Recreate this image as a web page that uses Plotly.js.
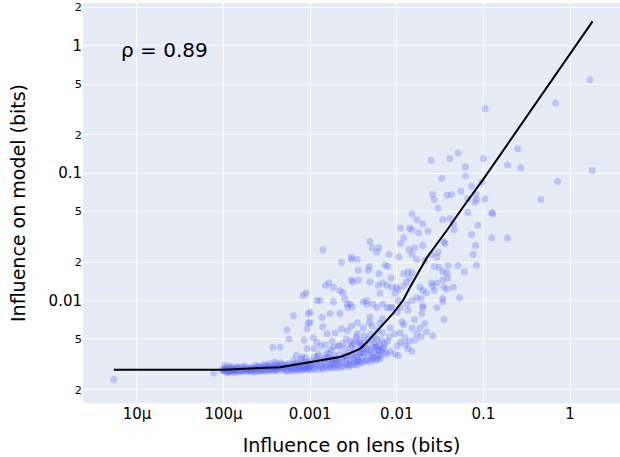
<!DOCTYPE html>
<html>
<head>
<meta charset="utf-8">
<script src="https://cdn.plot.ly/plotly-3.0.1.min.js"></script>
<style>html,body{margin:0;padding:0;background:#fff;}#chart{width:620px;height:457px;}</style>
</head>
<body>
<div id="chart"></div>
<script>
// Sparse upper points
const lensUpper = [1.7,1.8,0.68,0.105,0.72,0.46,0.25,0.19,0.27,0.19,0.125,0.083,0.025,0.041,0.051,0.1,0.062,0.033,0.062,0.073,0.096,0.055,0.026,0.027,0.038,0.043,0.082,0.066,0.083,0.08,0.104,0.03,0.066,0.128,0.015,0.017,0.034,0.041,0.045,0.02,0.086,0.011,0.014,0.015,0.018,0.023,0.046,0.012,0.073,0.125,0.011,0.035,0.081,0.016,0.02];
const modelUpper = [0.54,0.105,0.355,0.32,0.086,0.062,0.155,0.116,0.11,0.031,0.049,0.019,0.126,0.13,0.144,0.13,0.112,0.091,0.095,0.079,0.085,0.072,0.068,0.062,0.067,0.068,0.068,0.063,0.062,0.059,0.063,0.053,0.049,0.048,0.048,0.043,0.043,0.044,0.04,0.04,0.039,0.037,0.037,0.036,0.034,0.035,0.036,0.031,0.033,0.031,0.028,0.029,0.027,0.026,0.027];

// Middle points (about 0.008 - 0.03 bits on model)
const lensMid = [1.4e-3,4.9e-3,5.2e-3,6.2e-3,5.9e-3,2.3e-3,3e-3,3.0e-3,3.5e-3,8.1e-3,0.0105,0.0138,0.015,0.017,0.021,0.025,0.029,0.036,0.03,0.076,0.027,0.031,0.039,0.051,0.06,0.034,0.038,0.039,0.034,0.045,0.053,0.038,0.034,0.0135,0.015,0.012,0.014,0.013,0.012,0.0185,0.02,0.017,0.019,0.025,0.026,0.022,0.029,0.035,0.027,8.3e-4,9e-4,1.5e-3,1.65e-3,1.85e-3,2.2e-3,2.4e-3,3e-3,3.1e-3,3.6e-3,3.6e-3,4.7e-3,4.8e-3,6.2e-3,7.3e-3,7.9e-3,8.6e-3,7.7e-3,8.8e-3,0.01,4.9e-3,6.1e-3,6.9e-3,6.4e-3,9.5e-3,0.0104,0.0104,1.3e-3,1.85e-3,2.5e-3,2.7e-3,3.05e-3,4.1e-3,4.5e-3,5.3e-3,5.9e-3,6.9e-3,8.4e-3,0.011,0.013,0.015,0.02,0.029];
const modelMid = [0.025,0.029,0.026,0.026,0.024,0.02,0.021,0.022,0.021,0.023,0.022,0.025,0.023,0.021,0.0206,0.023,0.022,0.028,0.024,0.023,0.0185,0.0182,0.0188,0.0188,0.0168,0.0168,0.0165,0.015,0.0145,0.0127,0.0105,0.0123,0.0104,0.0168,0.0165,0.0162,0.015,0.014,0.013,0.0127,0.012,0.0105,0.0104,0.0137,0.013,0.0115,0.0137,0.0127,0.012,0.011,0.0115,0.0131,0.0137,0.0127,0.012,0.0115,0.0145,0.014,0.0145,0.0173,0.0173,0.0185,0.0162,0.019,0.0185,0.015,0.0131,0.0127,0.0127,0.014,0.0131,0.0137,0.0114,0.0114,0.0122,0.01,0.01,0.0098,0.0103,0.0094,0.0089,0.0098,0.01,0.0094,0.0088,0.0094,0.0088,0.0088,0.0094,0.01,0.0088,0.0088];

// Lower-middle points (about 0.004 - 0.01 bits on model)
const lensLow = [1e-3,1.37e-3,1.7e-3,2.2e-3,2.7e-3,2.9e-3,4.5e-3,3.5e-3,4.9e-3,6.4e-3,7.7e-3,8.8e-3,0.0101,0.0135,0.02,0.0195,0.034,0.035,6.4e-4,5.4e-4,9.2e-4,1.08e-3,1.57e-3,1.95e-3,2.7e-3,3.5e-3,4.1e-3,5.2e-3,6.9e-3,8.4e-3,9.5e-3,0.0109,0.0124,0.015,0.017,0.0185,0.0162,0.0135,0.0101,8.4e-3,7.7e-3,9.5e-3,6.4e-3,5.3e-3,0.026,0.0104,0.015,5.7e-4,3.7e-4,4.5e-4,9.5e-4,9.5e-4,8.5e-4,9.2e-4,1.2e-3,1e-3,7.7e-5,5.4e-6,1.2e-3,1.5e-3,1.8e-3,2.1e-3,2.4e-3,2.6e-3,2.9e-3,3.2e-3,3.4e-3,3.8e-3,4.2e-3,4.6e-3,5.0e-3,5.5e-3,6.0e-3,6.6e-3,7.2e-3,5.8e-3,4.4e-3,3.9e-3,6.2e-3,7.0e-3,7.8e-3,8.2e-3,2.3e-3,3.0e-3,1.4e-3,4.8e-3,6.8e-3,0.012,0.011,0.0125,0.014,0.019,0.022,0.0115,0.016,0.021];
const modelLow = [0.0081,0.0074,0.0079,0.0079,0.0088,0.0094,0.0094,0.0067,0.0074,0.0066,0.0088,0.0088,0.0081,0.0084,0.0091,0.0079,0.0098,0.0071,0.0076,0.0059,0.006,0.0051,0.0055,0.0056,0.0058,0.0055,0.0061,0.0063,0.0056,0.0061,0.0055,0.0056,0.0051,0.0061,0.0055,0.0061,0.0049,0.0042,0.0044,0.004,0.0038,0.0038,0.0035,0.0035,0.0053,0.0037,0.004,0.005,0.0043,0.0043,0.0079,0.0067,0.0049,0.0042,0.01,0.0067,0.0027,0.0024,0.0047,0.0045,0.0048,0.0044,0.0046,0.005,0.0048,0.0046,0.0052,0.0049,0.0053,0.005,0.0055,0.0052,0.0058,0.0049,0.0046,0.0044,0.0042,0.0044,0.0041,0.0043,0.0048,0.0052,0.006,0.0063,0.0062,0.0067,0.0072,0.0065,0.0047,0.0045,0.0048,0.0052,0.0057,0.0068,0.0071,0.0066];

// Dense band near the floor
const lensBand = [
 9.5e-5,1.0e-4,1.02e-4,1.05e-4,1.08e-4,1.1e-4,1.12e-4,1.15e-4,1.18e-4,1.2e-4,1.24e-4,1.27e-4,1.3e-4,1.34e-4,1.38e-4,1.42e-4,1.46e-4,1.5e-4,1.55e-4,1.6e-4,1.65e-4,1.7e-4,1.75e-4,1.8e-4,1.86e-4,1.92e-4,1.98e-4,1.04e-4,1.14e-4,1.22e-4,1.33e-4,1.44e-4,1.58e-4,1.72e-4,1.88e-4,
 2.0e-4,2.1e-4,2.15e-4,2.2e-4,2.3e-4,2.35e-4,2.4e-4,2.5e-4,2.55e-4,2.6e-4,2.7e-4,2.8e-4,2.85e-4,2.9e-4,3.0e-4,3.1e-4,3.2e-4,3.3e-4,3.4e-4,3.5e-4,3.6e-4,3.7e-4,3.8e-4,3.9e-4,4.0e-4,4.1e-4,4.2e-4,4.35e-4,4.5e-4,4.6e-4,4.75e-4,4.9e-4,
 2.25e-4,2.65e-4,3.05e-4,3.45e-4,3.85e-4,4.25e-4,4.7e-4,2.45e-4,3.25e-4,4.05e-4,
 5.0e-4,5.2e-4,5.4e-4,5.6e-4,5.8e-4,6.0e-4,6.2e-4,6.4e-4,6.6e-4,6.8e-4,7.0e-4,7.2e-4,7.4e-4,7.6e-4,7.8e-4,8.0e-4,8.2e-4,8.4e-4,8.6e-4,8.8e-4,9.0e-4,9.2e-4,9.4e-4,9.6e-4,9.8e-4,5.3e-4,5.9e-4,6.5e-4,7.1e-4,7.7e-4,8.3e-4,8.9e-4,9.5e-4,6.9e-4,8.1e-4,
 1.0e-3,1.04e-3,1.08e-3,1.12e-3,1.16e-3,1.2e-3,1.25e-3,1.3e-3,1.35e-3,1.4e-3,1.45e-3,1.5e-3,1.55e-3,1.6e-3,1.65e-3,1.7e-3,1.75e-3,1.8e-3,1.85e-3,1.9e-3,1.95e-3,1.02e-3,1.14e-3,1.28e-3,1.42e-3,1.58e-3,1.72e-3,1.88e-3,1.1e-3,1.33e-3,1.52e-3,1.68e-3,1.83e-3,1.98e-3,1.22e-3,
 2.0e-3,2.1e-3,2.2e-3,2.3e-3,2.4e-3,2.5e-3,2.6e-3,2.7e-3,2.8e-3,2.9e-3,3.0e-3,3.1e-3,3.2e-3,3.3e-3,3.4e-3,3.5e-3,3.6e-3,3.7e-3,3.8e-3,3.9e-3,2.05e-3,2.25e-3,2.45e-3,2.65e-3,2.85e-3,3.05e-3,3.25e-3,3.45e-3,3.65e-3,3.85e-3,2.15e-3,2.55e-3,2.95e-3,3.35e-3,3.75e-3,
 4.0e-3,4.2e-3,4.4e-3,4.6e-3,4.8e-3,5.0e-3,5.2e-3,5.4e-3,5.6e-3,5.8e-3,6.0e-3,6.3e-3,6.6e-3,6.9e-3,7.2e-3,4.1e-3,4.5e-3,4.9e-3,5.3e-3,5.7e-3,6.1e-3,6.5e-3,4.3e-3,5.1e-3,5.9e-3];
const modelBand = [
 0.00285,0.0029,0.0028,0.00295,0.00275,0.0029,0.0028,0.003,0.00285,0.0028,0.00293,0.00278,0.0029,0.00283,0.00296,0.00277,0.00289,0.00281,0.00298,0.00286,0.00279,0.00292,0.00284,0.003,0.00288,0.00281,0.00295,0.0031,0.00272,0.00305,0.00274,0.00302,0.00276,0.00307,0.00277,
 0.00288,0.00278,0.003,0.00292,0.00282,0.0031,0.00287,0.00295,0.00278,0.00305,0.0029,0.00298,0.00282,0.00315,0.00293,0.00287,0.00302,0.0028,0.0032,0.00296,0.00285,0.00308,0.00292,0.0033,0.00299,0.00283,0.00312,0.00294,0.00302,0.00325,0.00288,0.00306,
 0.00275,0.00284,0.00279,0.00289,0.00283,0.00296,0.00291,0.00297,0.00306,0.00318,
 0.00292,0.00308,0.00285,0.0032,0.00298,0.00303,0.00288,0.00335,0.00296,0.00312,0.00285,0.00326,0.00301,0.00295,0.00345,0.00308,0.0029,0.0032,0.00302,0.00355,0.00297,0.00315,0.0033,0.00292,0.00309,0.00278,0.0028,0.00283,0.00287,0.00284,0.00289,0.00286,0.00293,0.0037,0.0036,
 0.0031,0.00335,0.00295,0.0036,0.0032,0.00305,0.0038,0.00325,0.0034,0.00298,0.0035,0.0031,0.0039,0.0033,0.00345,0.00302,0.0041,0.0034,0.00318,0.0037,0.0033,0.00285,0.0029,0.00288,0.00292,0.00296,0.003,0.00298,0.0042,0.0044,0.0036,0.0038,0.0043,0.0035,0.00365,
 0.0034,0.0031,0.0038,0.0033,0.0036,0.0042,0.0032,0.0035,0.0039,0.0034,0.0045,0.0037,0.0033,0.0041,0.0036,0.0039,0.0034,0.0047,0.0038,0.0042,0.00298,0.003,0.00305,0.0031,0.00302,0.00315,0.0032,0.00312,0.0033,0.00325,0.0044,0.0037,0.0043,0.0049,0.0045,
 0.0036,0.0039,0.0034,0.0044,0.0037,0.0041,0.0035,0.0046,0.0039,0.0043,0.0037,0.0045,0.004,0.0042,0.0039,0.0033,0.0034,0.0033,0.0036,0.0034,0.0035,0.0037,0.0047,0.0049,0.005];

// More points in the densest part of the band
const lensBand2 = [1.01e-4,1.07e-4,1.13e-4,1.19e-4,1.26e-4,1.36e-4,1.48e-4,1.62e-4,1.78e-4,1.95e-4,2.08e-4,2.28e-4,2.48e-4,2.68e-4,2.88e-4,3.08e-4,3.38e-4,3.68e-4,3.98e-4,4.3e-4,4.65e-4,5.1e-4,5.5e-4,5.95e-4,6.35e-4,6.75e-4,7.25e-4,7.85e-4,8.45e-4,9.05e-4,9.7e-4,1.06e-3,1.18e-3,1.31e-3,1.47e-3,1.62e-3,1.78e-3,1.93e-3,2.12e-3,2.35e-3,2.58e-3,2.78e-3,3.02e-3,3.28e-3,3.55e-3,3.82e-3,4.15e-3,4.55e-3,5.05e-3,5.5e-3,6.2e-3];
const modelBand2 = [0.00282,0.00287,0.00277,0.00291,0.00286,0.00281,0.00293,0.00283,0.0029,0.00285,0.00294,0.00286,0.00301,0.00281,0.00297,0.00309,0.00289,0.00299,0.00285,0.00304,0.00316,0.00299,0.00312,0.00291,0.0031,0.00322,0.00297,0.00318,0.00306,0.00329,0.00302,0.00316,0.00342,0.00308,0.00328,0.00355,0.00318,0.00345,0.00326,0.00348,0.00365,0.00318,0.00375,0.00352,0.0034,0.00395,0.00385,0.0041,0.0039,0.0043,0.0041];

// Trend line
const lineLens = [5.4e-6,1e-4,4.5e-4,1.08e-3,1.6e-3,2.2e-3,2.7e-3,3.3e-3,3.8e-3,4.5e-3,5.3e-3,6.4e-3,9e-3,0.0118,0.0142,0.0223,0.0379,0.058,0.098,1.82];
const lineModel = [0.00286,0.00287,0.003,0.0033,0.00345,0.0036,0.0038,0.004,0.0042,0.0047,0.0053,0.0062,0.0079,0.01,0.0127,0.0218,0.0356,0.054,0.088,1.55];

const rhoText = 'ρ = 0.89';
const xTitle = 'Influence on lens (bits)';
const yTitle = 'Influence on model (bits)';

const FONT = 'DejaVu Sans, sans-serif';

const scatter = {
  type: 'scatter', mode: 'markers',
  x: lensUpper.concat(lensMid, lensLow, lensBand, lensBand2),
  y: modelUpper.concat(modelMid, modelLow, modelBand, modelBand2),
  marker: {color: '#636efa', size: 7, opacity: 0.32, line: {width: 0}},
  showlegend: false, hoverinfo: 'skip'
};
const trend = {
  type: 'scatter', mode: 'lines',
  x: lineLens, y: lineModel,
  line: {color: 'black', width: 2, shape: 'linear'},
  showlegend: false
};

const layout = {
  width: 620, height: 457,
  margin: {l: 83, r: 0, t: 3, b: 54},
  paper_bgcolor: 'white', plot_bgcolor: '#E5ECF6',
  font: {family: FONT, size: 15, color: 'black'},
  xaxis: {
    type: 'log', range: [-5.623, 0.577], dtick: 1,
    gridcolor: 'white', gridwidth: 1, zeroline: false, showline: false,
    ticks: '', tickfont: {family: FONT, size: 15, color: 'black'},
    title: {text: xTitle, font: {family: FONT, size: 19, color: 'black'}, standoff: 16}
  },
  yaxis: {
    type: 'log', range: [-2.804, 0.335], dtick: 'D2',
    gridcolor: 'white', gridwidth: 1, zeroline: false, showline: false,
    ticks: '', tickfont: {family: FONT, size: 15, color: 'black'},
    title: {text: yTitle, font: {family: FONT, size: 19, color: 'black'}, standoff: 17}
  },
  annotations: [{
    xref: 'paper', yref: 'paper', x: 0.067, y: 0.882,
    xanchor: 'left', yanchor: 'middle', showarrow: false,
    text: rhoText, font: {family: FONT, size: 20, color: 'black'}
  }]
};

Plotly.newPlot('chart', [scatter, trend], layout, {displayModeBar: false, staticPlot: true});
</script>
</body>
</html>
